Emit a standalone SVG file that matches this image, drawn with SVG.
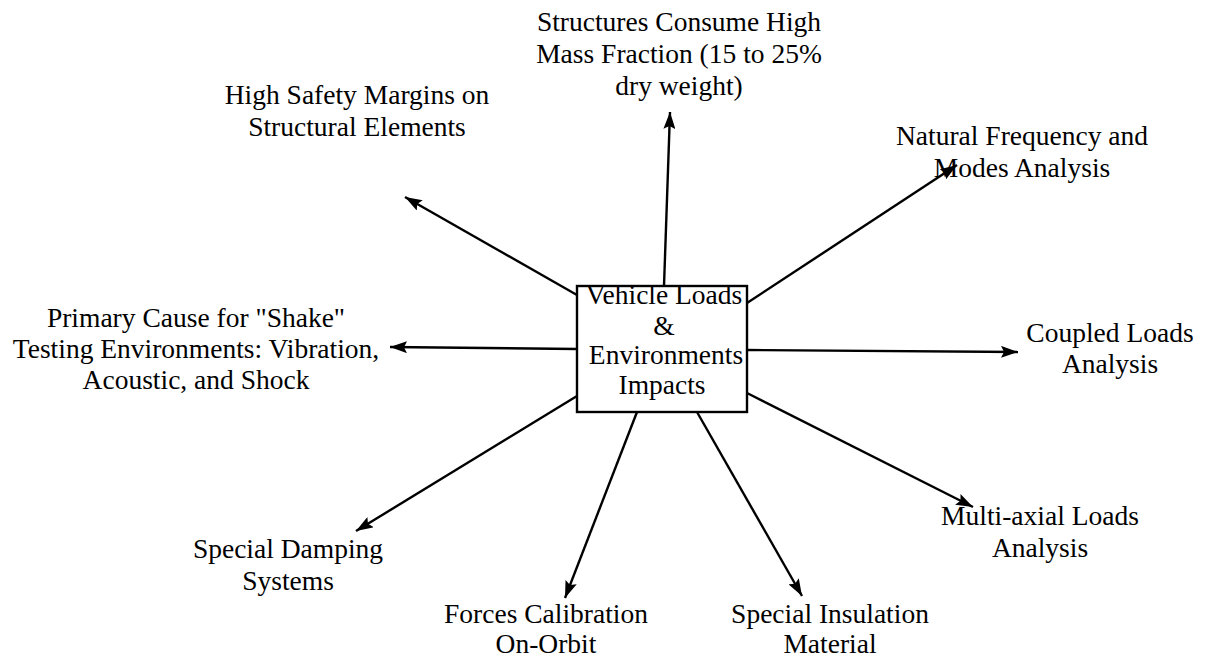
<svg xmlns="http://www.w3.org/2000/svg" width="1206" height="658" viewBox="0 0 1206 658">
  <style>
    text { font-family: "Liberation Serif", "Times New Roman", serif; font-size: 27.5px; fill: #000; text-anchor: middle; }
    .box { fill: #fff; stroke: #000; stroke-width: 2.4; }
    .link { stroke: #000; stroke-width: 2.4; fill: none; marker-end: url(#head); }
  </style>
  <defs>
    <marker id="head" markerUnits="userSpaceOnUse" markerWidth="20" markerHeight="12" refX="17" refY="6" orient="auto">
      <path d="M0,0 L17,6 L0,12 L3,6 Z" fill="#000"/>
    </marker>
  </defs>

  <g id="connectors">
    <line class="link" x1="664" y1="286" x2="670" y2="112"/>
    <line class="link" x1="577" y1="295" x2="405" y2="197"/>
    <line class="link" x1="577" y1="349" x2="390" y2="347"/>
    <line class="link" x1="577" y1="396" x2="356" y2="531"/>
    <line class="link" x1="637" y1="412" x2="565" y2="598"/>
    <line class="link" x1="697" y1="412" x2="802" y2="596"/>
    <line class="link" x1="747" y1="393" x2="973" y2="507"/>
    <line class="link" x1="747" y1="350" x2="1018" y2="352"/>
    <line class="link" x1="747" y1="303" x2="957" y2="165"/>
  </g>

  <g id="center">
    <rect class="box" x="577" y="286" width="170" height="126"/>
    <text x="664" y="304">Vehicle Loads</text>
    <text x="664" y="335">&amp;</text>
    <text x="666" y="364">Environments</text>
    <text x="662" y="394">Impacts</text>
  </g>

  <g id="structures">
    <text x="679" y="31">Structures Consume High</text>
    <text x="679" y="63">Mass Fraction (15 to 25%</text>
    <text x="679" y="95">dry weight)</text>
  </g>

  <g id="safety">
    <text x="357" y="104">High Safety Margins on</text>
    <text x="357" y="136">Structural Elements</text>
  </g>

  <g id="frequency">
    <text x="1022" y="145">Natural Frequency and</text>
    <text x="1022" y="177">Modes Analysis</text>
  </g>

  <g id="shake">
    <text x="196" y="327">Primary Cause for "Shake"</text>
    <text x="196" y="358">Testing Environments: Vibration,</text>
    <text x="196" y="389">Acoustic, and Shock</text>
  </g>

  <g id="coupled">
    <text x="1110" y="342">Coupled Loads</text>
    <text x="1110" y="373">Analysis</text>
  </g>

  <g id="damping">
    <text x="288" y="558">Special Damping</text>
    <text x="288" y="590">Systems</text>
  </g>

  <g id="multiaxial">
    <text x="1040" y="525">Multi-axial Loads</text>
    <text x="1040" y="557">Analysis</text>
  </g>

  <g id="calibration">
    <text x="546" y="623">Forces Calibration</text>
    <text x="546" y="653">On-Orbit</text>
  </g>

  <g id="insulation">
    <text x="830" y="623">Special Insulation</text>
    <text x="830" y="653">Material</text>
  </g>
</svg>
